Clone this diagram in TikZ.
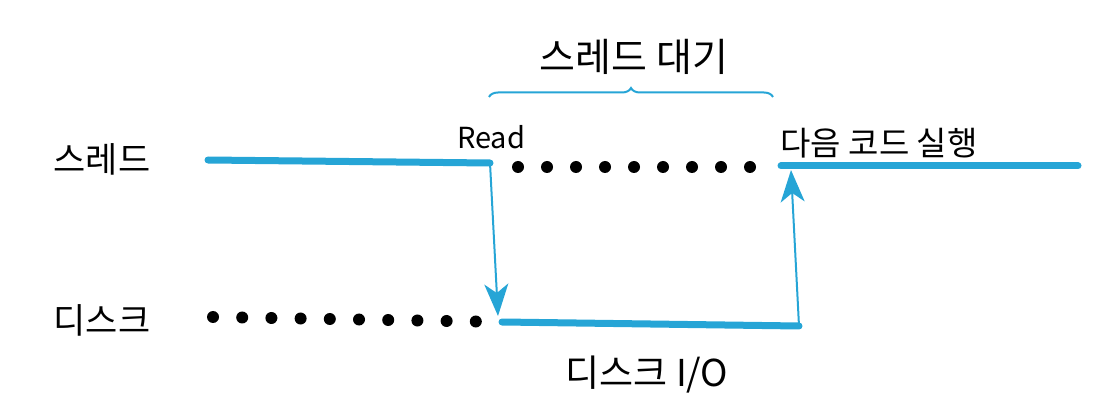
\documentclass[tikz,border=0pt]{standalone}
\usepackage{fontspec}
\setmainfont{Noto Sans CJK KR}
\usetikzlibrary{decorations.pathreplacing,arrows.meta}
\definecolor{ioblue}{RGB}{38,165,214}
\tikzstyle{every node}=[inner sep=0pt]
\tikzstyle{tag}=[font=\fontsize{35}{38}\selectfont]
\tikzstyle{busy}=[draw=ioblue,line width=7pt,line cap=round]
\tikzstyle{idle}=[fill=black,circle,minimum size=12pt]
\tikzstyle{jump}=[draw=ioblue,line width=2pt,-{Stealth[length=32pt,width=24pt,inset=9pt]}]

\begin{document}
\begin{tikzpicture}[x=1pt,y=-1pt]
	\useasboundingbox (0,0) rectangle (1119,403);
	% labels
	\node (thr) [tag] at (102,159) {스레드};
	\node (dsk) [tag] at (102,320) {디스크};
	\node (wait) [tag,font=\fontsize{39}{42}\selectfont] at (634,57) {스레드 대기};
	\node (read) [tag,font=\fontsize{29}{32}\selectfont] at (491,137) {Read};
	\node (next) [tag,font=\fontsize{33}{36}\selectfont] at (879,143) {다음 코드 실행};
	\node (dio) [tag,font=\fontsize{37}{40}\selectfont] at (647,375) {디스크 I/O};
	% thread and disk lines
	\coordinate (t1) at (208,160);
	\coordinate (t2) at (490,163);
	\coordinate (t3) at (781,166);
	\coordinate (t4) at (1078,166);
	\coordinate (d1) at (502,322);
	\coordinate (d2) at (799,326);
	\draw[busy] (t1) -- (t2);
	\draw[busy] (t3) -- (t4);
	\draw[busy] (d1) -- (d2);
	% waiting dots
	\foreach \i in {0,...,8}
		\node (w\i) [idle] at (518+29*\i,167) {};
	\foreach \i in {0,...,9}
		\node (s\i) [idle] at (213+29.2*\i,317+0.5*\i) {};
	% read request and completion
	\draw[jump] (t2) -- (498,316);
	\draw[jump] (d2) -- (791,170);
	% brace
	\draw[ioblue,line width=2pt,decorate,decoration={brace,amplitude=9pt}] (489,97) -- (773,97);
\end{tikzpicture}
\end{document}
